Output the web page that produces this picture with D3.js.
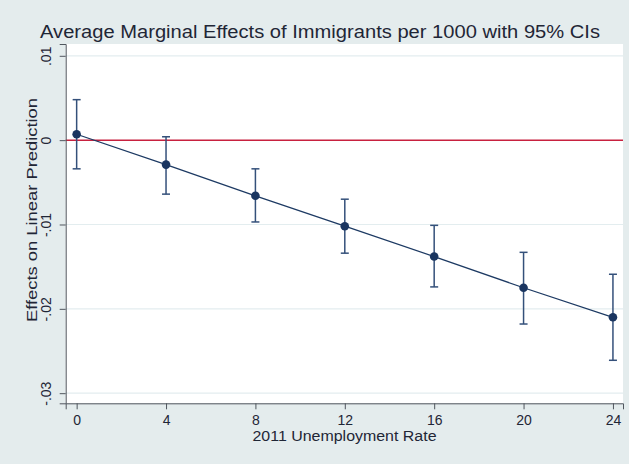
<!DOCTYPE html>
<meta charset="utf-8">
<style>
  body { margin: 0; background: #e4eced; }
  text { font-family: "Liberation Sans", Arial, Helvetica, sans-serif; fill: #1f2636; }
</style>
<body>
<script src="https://cdn.jsdelivr.net/npm/d3@7"></script>
<script>
  var unemp = [0, 4, 8, 12, 16, 20, 24];
  var effect = [0.0007, -0.0029, -0.0066, -0.0102, -0.0138, -0.0175, -0.0210];
  var ciLow = [-0.0034, -0.0064, -0.0097, -0.0134, -0.0174, -0.0218, -0.0261];
  var ciHigh = [0.0048, 0.0004, -0.0034, -0.0070, -0.0101, -0.0133, -0.0159];
  var yTicks = [0.01, 0, -0.01, -0.02, -0.03];
  var yTickLabels = [".01", "0", "-.01", "-.02", "-.03"];
  var xTicks = [0, 4, 8, 12, 16, 20, 24];

  var width = 629, height = 464;
  var plot = {left: 65.7, right: 623, top: 44, bottom: 403.3};

  var svg = d3.select("body").append("svg")
      .attr("width", width)
      .attr("height", height);

  svg.append("rect")
      .attr("width", width).attr("height", height)
      .attr("fill", "#e4eced");

  var x = d3.scaleLinear()
      .domain([-0.49, 24.45])
      .range([plot.left, plot.right]);
  var y = d3.scaleLinear()
      .domain([-0.0312, 0.0114])
      .range([plot.bottom, plot.top]);

  // plot region
  svg.append("rect")
      .attr("x", plot.left).attr("y", plot.top)
      .attr("width", plot.right - plot.left)
      .attr("height", plot.bottom - plot.top)
      .attr("fill", "#ffffff");

  // gridlines
  svg.selectAll(".grid")
      .data(yTicks.filter(function(d) { return d !== 0; }))
    .enter().append("line")
      .attr("class", "grid")
      .attr("x1", plot.left).attr("x2", plot.right)
      .attr("y1", function(d) { return y(d); })
      .attr("y2", function(d) { return y(d); })
      .attr("stroke", "#e3edef")
      .attr("stroke-width", 1.2);

  // reference line at zero
  svg.append("line")
      .attr("x1", plot.left).attr("x2", plot.right)
      .attr("y1", y(0)).attr("y2", y(0))
      .attr("stroke", "#c8213f")
      .attr("stroke-width", 1.5);

  // y axis
  var yAxis = svg.append("g")
      .attr("transform", "translate(" + plot.left + ",0)")
      .call(d3.axisLeft(y).tickValues(yTicks).tickSize(6)
        .tickFormat(function(d, i) { return yTickLabels[i]; }));
  yAxis.select(".domain").attr("stroke", "#50565e");
  yAxis.selectAll(".tick line").attr("stroke", "#50565e");
  yAxis.selectAll(".tick text")
      .attr("transform", "rotate(-90)")
      .attr("x", 0).attr("y", -15).attr("dy", 0)
      .attr("text-anchor", "middle")
      .style("font-size", "14px")
      .style("font-family", "'Liberation Sans', Arial, sans-serif")
      .attr("fill", "#1f2636");

  // x axis
  var xAxis = svg.append("g")
      .attr("transform", "translate(0," + plot.bottom + ")")
      .call(d3.axisBottom(x).tickValues(xTicks).tickSize(6));
  xAxis.select(".domain").attr("stroke", "#50565e");
  xAxis.selectAll(".tick line").attr("stroke", "#50565e");
  xAxis.selectAll(".tick text")
      .attr("y", 22).attr("dy", 0)
      .style("font-size", "14px")
      .style("font-family", "'Liberation Sans', Arial, sans-serif")
      .attr("fill", "#1f2636");

  // error bars
  var bars = svg.selectAll(".ci")
      .data(unemp)
    .enter().append("g")
      .attr("class", "ci")
      .attr("stroke", "#34507a")
      .attr("stroke-width", 1.5);
  bars.append("line")
      .attr("x1", function(d) { return x(d); })
      .attr("x2", function(d) { return x(d); })
      .attr("y1", function(d, i) { return y(ciLow[i]); })
      .attr("y2", function(d, i) { return y(ciHigh[i]); });
  bars.append("line")
      .attr("x1", function(d) { return x(d) - 4; })
      .attr("x2", function(d) { return x(d) + 4; })
      .attr("y1", function(d, i) { return y(ciLow[i]); })
      .attr("y2", function(d, i) { return y(ciLow[i]); });
  bars.append("line")
      .attr("x1", function(d) { return x(d) - 4; })
      .attr("x2", function(d) { return x(d) + 4; })
      .attr("y1", function(d, i) { return y(ciHigh[i]); })
      .attr("y2", function(d, i) { return y(ciHigh[i]); });

  // connecting line
  var line = d3.line()
      .x(function(d) { return x(d); })
      .y(function(d, i) { return y(effect[i]); });
  svg.append("path")
      .datum(unemp)
      .attr("d", line)
      .attr("fill", "none")
      .attr("stroke", "#1d3a63")
      .attr("stroke-width", 1.3);

  // points
  svg.selectAll(".pt")
      .data(unemp)
    .enter().append("circle")
      .attr("class", "pt")
      .attr("cx", function(d) { return x(d); })
      .attr("cy", function(d, i) { return y(effect[i]); })
      .attr("r", 4.3)
      .attr("fill", "#1a3560");

  // titles
  svg.append("text")
      .attr("x", 320).attr("y", 38)
      .attr("text-anchor", "middle")
      .attr("textLength", 560)
      .attr("lengthAdjust", "spacingAndGlyphs")
      .style("font-size", "17.5px")
      .text("Average Marginal Effects of Immigrants per 1000 with 95% CIs");

  svg.append("text")
      .attr("x", 344.5).attr("y", 441)
      .attr("text-anchor", "middle")
      .attr("textLength", 184)
      .attr("lengthAdjust", "spacingAndGlyphs")
      .style("font-size", "14px")
      .text("2011 Unemployment Rate");

  svg.append("text")
      .attr("transform", "translate(37,210) rotate(-90)")
      .attr("text-anchor", "middle")
      .attr("textLength", 224)
      .attr("lengthAdjust", "spacingAndGlyphs")
      .style("font-size", "14px")
      .text("Effects on Linear Prediction");
</script>
</body>
